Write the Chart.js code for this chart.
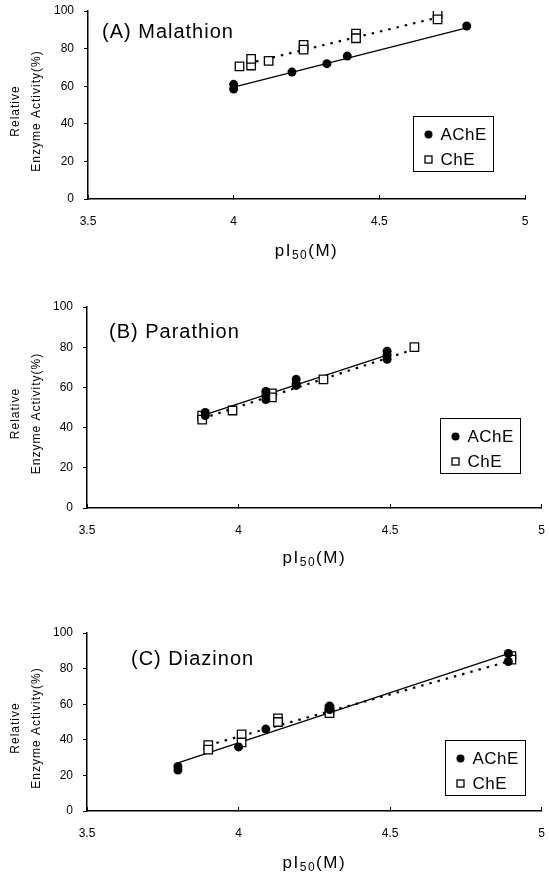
<!DOCTYPE html>
<html>
<head>
<meta charset="utf-8">
<script src="https://cdn.jsdelivr.net/npm/chart.js@4.4.0/dist/chart.umd.min.js"></script>
<style>
  html, body { margin: 0; padding: 0; background: #fff; }
  body { width: 549px; height: 879px; position: relative; overflow: hidden; }
  .panel { position: absolute; left: 0; }
</style>
</head>
<body>
<div class="panel" style="top:0px"><canvas id="chartA" width="549" height="270"></canvas></div>
<div class="panel" style="top:290px"><canvas id="chartB" width="549" height="285"></canvas></div>
<div class="panel" style="top:600px"><canvas id="chartC" width="549" height="279"></canvas></div>
<script>
// ---- data ----
const xTicks = [3.5, 4, 4.5, 5];
const yTicks = [0, 20, 40, 60, 80, 100];
const seriesNames = ['AChE', 'ChE'];

// (A) Malathion
const malAchEX = [4.0, 4.0, 4.2, 4.32, 4.39, 4.8];
const malAchEY = [61, 58.5, 67.5, 72, 76, 92];
const malChEX  = [4.02, 4.06, 4.06, 4.12, 4.24, 4.24, 4.42, 4.42, 4.7, 4.7];
const malChEY  = [70.5, 71, 74.5, 73.5, 82, 79.5, 88, 85.5, 98.5, 95.5];
const malAchEFitX = [4.0, 4.8];
const malAchEFitY = [59.5, 91];
const malChEFitX  = [4.02, 4.7];
const malChEFitY  = [71, 96.5];

// (B) Parathion
const parAchEX = [3.89, 3.89, 4.09, 4.09, 4.09, 4.19, 4.19, 4.19, 4.49, 4.49, 4.49];
const parAchEY = [47.5, 46, 58, 56, 54, 64, 62, 61, 78, 76, 74];
const parChEX  = [3.88, 3.88, 3.98, 4.11, 4.11, 4.28, 4.58];
const parChEY  = [46, 44, 48.5, 57, 55, 64, 80];
const parAchEFitX = [3.89, 4.5];
const parAchEFitY = [46.5, 76.5];
const parChEFitX  = [3.88, 4.59];
const parChEFitY  = [44.5, 79.5];

// (C) Diazinon
const diaAchEX = [3.8, 3.8, 4.0, 4.09, 4.3, 4.3, 4.89, 4.89];
const diaAchEY = [25, 23, 36, 46, 59, 57, 88.5, 84];
const diaChEX  = [3.9, 3.9, 4.01, 4.01, 4.13, 4.13, 4.3, 4.3, 4.9, 4.9];
const diaChEY  = [37, 34.5, 43, 38.5, 52, 50, 57, 55, 87, 85];
const diaAchEFitX = [3.8, 4.9];
const diaAchEFitY = [27, 89];
const diaChEFitX  = [3.9, 4.9];
const diaChEFitY  = [37, 84.5];

const FONT = '"Liberation Sans", Arial, Helvetica, sans-serif';
Chart.defaults.font.family = FONT;
Chart.defaults.font.size = 12;
Chart.defaults.color = '#000';

function pts(xs, ys){ return xs.map((x, i) => ({ x, y: ys[i] })); }

// titles, axis titles and the boxed key, drawn on the canvas
const decor = {
  id: 'decor',
  afterDraw(chart, args, o){
    const { ctx, chartArea: a } = chart;
    ctx.save();
    ctx.fillStyle = '#000';
    ctx.strokeStyle = '#000';
    ctx.letterSpacing = '1px';

    // panel title
    ctx.font = '20px ' + FONT;
    ctx.textAlign = 'left';
    ctx.textBaseline = 'middle';
    ctx.fillText(o.title, a.left + o.titleDx, a.top + o.titleDy);

    // y axis title, two rotated lines
    const midY = (a.top + a.bottom) / 2 + 6;
    ctx.font = '12px ' + FONT;
    ctx.textAlign = 'center';
    [['Relative', 16], ['Enzyme Activity(%)', 37]].forEach(([t, cx]) => {
      ctx.save();
      ctx.translate(cx, midY);
      ctx.rotate(-Math.PI / 2);
      ctx.fillText(t, 0, 0);
      ctx.restore();
    });

    // x axis title with subscript
    ctx.letterSpacing = '1.5px';
    ctx.textAlign = 'left';
    const parts = [['pI', 17, 0], ['50', 12, 5], ['(M)', 17, 0]];
    let w = 0;
    parts.forEach(p => { ctx.font = p[1] + 'px ' + FONT; w += ctx.measureText(p[0]).width; });
    let x = (a.left + a.right) / 2 - w / 2;
    const ty = a.bottom + o.xTitleDy;
    parts.forEach(p => {
      ctx.font = p[1] + 'px ' + FONT;
      ctx.fillText(p[0], x, ty + p[2]);
      x += ctx.measureText(p[0]).width;
    });

    // key box
    const bx = Math.round(a.right + o.keyDx) + 0.5, by = Math.round(a.top + o.keyDy) + 0.5;
    ctx.lineWidth = 1;
    ctx.strokeRect(bx, by, 80, 55);
    ctx.font = '17px ' + FONT;
    ctx.letterSpacing = '0.5px';
    const keyed = chart.data.datasets.filter(d => d.inKey);
    keyed.forEach((d, i) => {
      const my = by + 18 + i * 25, mx = bx + 15;
      if (d.pointStyle === 'circle'){
        ctx.beginPath(); ctx.arc(mx, my, 4, 0, Math.PI * 2); ctx.fill();
      } else {
        ctx.fillStyle = '#fff'; ctx.lineWidth = 1.3;
        ctx.fillRect(mx - 3.5, my - 3.5, 7, 7); ctx.strokeRect(mx - 3.5, my - 3.5, 7, 7);
        ctx.fillStyle = '#000';
      }
      ctx.fillText(d.label, bx + 27, my + 1);
    });
    ctx.restore();
  }
};

function makePanel(id, cfg){
  new Chart(document.getElementById(id), {
    type: 'scatter',
    data: {
      datasets: [
        { label: seriesNames[0], data: pts(cfg.achX, cfg.achY), inKey: true, order: 0,
          pointStyle: 'circle', pointRadius: 4.5, backgroundColor: '#000', borderColor: '#000', borderWidth: 0 },
        { label: seriesNames[1], data: pts(cfg.cheX, cfg.cheY), inKey: true, order: 0,
          pointStyle: 'rect', pointRadius: 6, backgroundColor: '#fff', borderColor: '#000', borderWidth: 1.3 },
        { label: seriesNames[0] + ' fit', data: pts(cfg.achFitX, cfg.achFitY), type: 'line', order: 1,
          showLine: true, pointRadius: 0, borderColor: '#000', borderWidth: 1.3, fill: false },
        { label: seriesNames[1] + ' fit', data: pts(cfg.cheFitX, cfg.cheFitY), type: 'line', order: 1,
          showLine: true, pointRadius: 0, borderColor: '#000', borderWidth: 2.2, borderDash: [2.5, 6], fill: false }
      ]
    },
    options: {
      responsive: false,
      animation: false,
      events: [],
      layout: { padding: { top: cfg.padTop, right: cfg.padRight, left: 0, bottom: 0 } },
      scales: {
        x: {
          type: 'linear', min: xTicks[0], max: xTicks[xTicks.length - 1],
          afterBuildTicks: s => { s.ticks = xTicks.map(v => ({ value: v })); },
          afterFit: s => { s.height = cfg.xAxisH; s.paddingLeft = 0; s.paddingRight = 0; },
          ticks: { padding: 19, maxRotation: 0, font: { size: 12 }, callback: v => String(v) },
          grid: { drawOnChartArea: false, drawTicks: true, tickLength: -4, color: '#000', lineWidth: 1 },
          border: { display: true, color: '#000', width: 1.5 }
        },
        y: {
          type: 'linear', min: yTicks[0], max: yTicks[yTicks.length - 1],
          afterBuildTicks: s => { s.ticks = yTicks.map(v => ({ value: v })); },
          afterFit: s => { s.width = cfg.yAxisW; s.paddingTop = 0; s.paddingBottom = 0; },
          ticks: { padding: 10, font: { size: 12 }, callback: v => String(v) },
          grid: { drawOnChartArea: false, drawTicks: true, tickLength: 4, color: '#000', lineWidth: 1 },
          border: { display: true, color: '#000', width: 1.5 }
        }
      },
      plugins: {
        legend: { display: false },
        tooltip: { enabled: false },
        decor: cfg.decor
      }
    },
    plugins: [decor]
  });
}

makePanel('chartA', {
  achX: malAchEX, achY: malAchEY, cheX: malChEX, cheY: malChEY,
  achFitX: malAchEFitX, achFitY: malAchEFitY, cheFitX: malChEFitX, cheFitY: malChEFitY,
  padTop: 11, padRight: 24, xAxisH: 71, yAxisW: 88,
  decor: { title: '(A) Malathion', titleDx: 14, titleDy: 21, xTitleDy: 52, keyDx: -112, keyDy: 105 }
});
makePanel('chartB', {
  achX: parAchEX, achY: parAchEY, cheX: parChEX, cheY: parChEY,
  achFitX: parAchEFitX, achFitY: parAchEFitY, cheFitX: parChEFitX, cheFitY: parChEFitY,
  padTop: 17, padRight: 7, xAxisH: 67, yAxisW: 87,
  decor: { title: '(B) Parathion', titleDx: 22, titleDy: 25, xTitleDy: 50, keyDx: -102, keyDy: 111 }
});
makePanel('chartC', {
  achX: diaAchEX, achY: diaAchEY, cheX: diaChEX, cheY: diaChEY,
  achFitX: diaAchEFitX, achFitY: diaAchEFitY, cheFitX: diaChEFitX, cheFitY: diaChEFitY,
  padTop: 33, padRight: 4, xAxisH: 68, yAxisW: 87,
  decor: { title: '(C) Diazinon', titleDx: 44, titleDy: 26, xTitleDy: 52, keyDx: -97, keyDy: 107 }
});
</script>
</body>
</html>
